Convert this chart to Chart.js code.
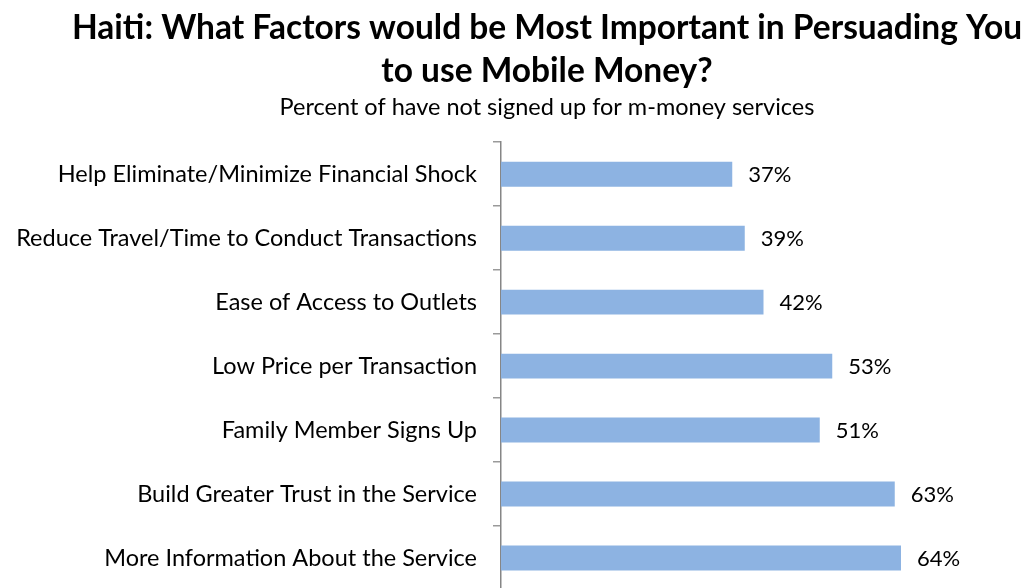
<!DOCTYPE html>
<html lang="en"><head>
<title>Haiti Mobile Money</title>
<style>
* { margin: 0; padding: 0 }
html, body { background: #fff; overflow: hidden; }
#ChartBox { width: 1028px; height: 600px; position: relative; }
</style>
<script src="https://cdn.jsdelivr.net/npm/chart.js"></script>
<script>

const factors = [
  "Help Eliminate/Minimize Financial Shock",
  "Reduce Travel/Time to Conduct Transactions",
  "Ease of Access to Outlets",
  "Low Price per Transaction",
  "Family Member Signs Up",
  "Build Greater Trust in the Service",
  "More Information About the Service",
];
const percents = [37, 39, 42, 53, 51, 63, 64];

const titleLines = [
  "Haiti: What Factors would be Most Important in Persuading You",
  "to use Mobile Money?",
];
const subtitleText = "Percent of have not signed up for m-money services";

const FONT = "Lato, 'Open Sans', sans-serif";
const TITLE_CENTER = 547;

function get(id) {
    return document.getElementById(id);
}

// writes "NN%" just past the end of every bar
const valueLabels = {
    id: "valueLabels",
    afterDatasetsDraw(chart) {
        const ctx = chart.ctx;
        const meta = chart.getDatasetMeta(0);
        ctx.save();
        ctx.font = "22px " + FONT;
        ctx.fillStyle = "#000";
        ctx.textAlign = "left";
        ctx.textBaseline = "middle";
        meta.data.forEach(function(bar, i) {
            ctx.fillText(percents[i] + "%", bar.x + 16, bar.y + 1);
        });
        ctx.restore();
    },
};

// title + subtitle sit a bit right of the canvas middle, over the bars
const titleShift = {
    id: "titleShift",
    afterLayout(chart) {
        chart.boxes.forEach(function(box) {
            if (box.position === "top" && box.options && box.options.text !== undefined) {
                box.left = TITLE_CENTER - 500;
                box.right = TITLE_CENTER + 500;
            }
        });
    },
};

function bodyOnLoad() {
    new Chart(get("FactorChart"), {
        type: "bar",
        data: {
            labels: factors,
            datasets: [{
                data: percents,
                backgroundColor: "#8db3e2",
                barPercentage: 0.39,
                categoryPercentage: 1,
            }],
        },
        options: {
            indexAxis: "y",
            responsive: true,
            maintainAspectRatio: false,
            animation: false,
            layout: { padding: { left: 0, right: 27, top: 0, bottom: 10 } },
            plugins: {
                legend: { display: false },
                tooltip: { enabled: false },
                title: {
                    display: true,
                    text: titleLines,
                    color: "#000",
                    font: { family: FONT, size: 33.5, weight: "bold", lineHeight: 1.284 },
                    padding: { top: 7, bottom: 0 },
                },
                subtitle: {
                    display: true,
                    text: subtitleText,
                    color: "#000",
                    font: { family: FONT, size: 23.5, lineHeight: 1.2 },
                    padding: { top: 0, bottom: 21 },
                },
            },
            scales: {
                x: {
                    display: false,
                    min: 0,
                    max: 80,
                },
                y: {
                    afterFit(scale) {
                        scale.width = 501;
                        scale.paddingTop = 0;
                        scale.paddingBottom = 0;
                    },
                    border: { display: true, color: "#868686", width: 1.5 },
                    grid: {
                        offset: true,
                        drawOnChartArea: false,
                        drawTicks: true,
                        tickLength: 8,
                        color: "#9a9a9a",
                        lineWidth: 1.5,
                    },
                    ticks: {
                        color: "#000",
                        padding: 16,
                        font: { family: FONT, size: 23.5 },
                    },
                },
            },
        },
        plugins: [valueLabels, titleShift],
    });
}

</script>
</head><body onload="bodyOnLoad()">
<div id="ChartBox"><canvas id="FactorChart"></canvas></div>
</body></html>
